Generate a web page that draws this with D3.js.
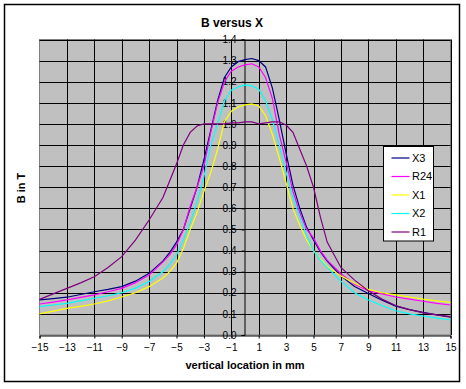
<!DOCTYPE html>
<html>
<head>
<meta charset="utf-8">
<script src="https://cdn.jsdelivr.net/npm/d3@7"></script>
<style>
  body { margin: 0; background: #fff; }
  text { font-family: "Liberation Sans", Arial, sans-serif; }
</style>
</head>
<body>
<svg id="chart" width="466" height="389"></svg>
<script>
// positions along the magnet (mm)
const xs = [-15, -14, -13, -12, -11, -10, -9, -8, -7, -6,
  -5.5, -5, -4.5, -4, -3.5, -3, -2.5, -2, -1.5, -1, -0.5, 0, 0.5, 1, 1.5, 2, 2.5, 3, 3.5, 4, 4.5, 5, 5.5,
  6, 7, 8, 9, 10, 11, 12, 13, 14, 15];

const x3 = [0.166, 0.172, 0.179, 0.192, 0.205, 0.216, 0.229, 0.255, 0.292, 0.35,
  0.39, 0.44, 0.5, 0.6, 0.7, 0.83, 0.97, 1.11, 1.22, 1.27, 1.295, 1.305, 1.31, 1.3, 1.27, 1.17, 1.02, 0.86, 0.71, 0.6, 0.51, 0.45, 0.395,
  0.35, 0.28, 0.23, 0.197, 0.165, 0.137, 0.12, 0.107, 0.095, 0.085];

const r24 = [0.147, 0.156, 0.166, 0.178, 0.19, 0.205, 0.221, 0.248, 0.284, 0.345,
  0.38, 0.427, 0.5, 0.61, 0.7, 0.8, 0.96, 1.1, 1.2, 1.25, 1.27, 1.28, 1.285, 1.27, 1.22, 1.12, 0.95, 0.82, 0.68, 0.58, 0.5, 0.46, 0.4,
  0.355, 0.29, 0.24, 0.21, 0.195, 0.18, 0.17, 0.16, 0.15, 0.142];

const x1 = [0.1, 0.113, 0.126, 0.136, 0.147, 0.162, 0.18, 0.2, 0.229, 0.27,
  0.3, 0.34, 0.41, 0.5, 0.58, 0.68, 0.77, 0.88, 1.01, 1.06, 1.08, 1.09, 1.095, 1.085, 1.04, 0.95, 0.84, 0.72, 0.6, 0.52, 0.45, 0.4, 0.36,
  0.325, 0.28, 0.245, 0.216, 0.2, 0.19, 0.18, 0.17, 0.162, 0.155];

const x2 = [0.134, 0.142, 0.15, 0.162, 0.174, 0.186, 0.2, 0.222, 0.253, 0.3,
  0.335, 0.379, 0.45, 0.53, 0.63, 0.75, 0.9, 1.0, 1.11, 1.16, 1.175, 1.185, 1.18, 1.165, 1.11, 1.02, 0.9, 0.77, 0.65, 0.56, 0.47, 0.4, 0.355,
  0.32, 0.255, 0.2, 0.166, 0.14, 0.115, 0.1, 0.09, 0.08, 0.071];

const r1 = [0.169, 0.195, 0.221, 0.247, 0.276, 0.32, 0.371, 0.45, 0.545, 0.65,
  0.73, 0.81, 0.9, 0.96, 0.99, 1.0, 1.0, 1.0, 1.0, 1.005, 1.005, 1.01, 1.01, 1.0, 1.005, 1.01, 1.01, 0.995, 0.96, 0.88, 0.8, 0.7, 0.56,
  0.44, 0.32, 0.26, 0.21, 0.17, 0.14, 0.12, 0.105, 0.095, 0.087];

const seriesNames = ["X3", "R24", "X1", "X2", "R1"];
const seriesValues = [x3, r24, x1, x2, r1];
const colors = ["#000080", "#ff00ff", "#ffff00", "#00ffff", "#800080"];

const xTicks = d3.range(-15, 16, 2);
const yTicks = d3.range(0, 15).map(d => d / 10);

const svg = d3.select("#chart");

// chart area border
svg.append("rect")
  .attr("x", 4.5).attr("y", 4.5)
  .attr("width", 455).attr("height", 377)
  .attr("fill", "#fff")
  .attr("stroke", "#000")
  .attr("stroke-width", 1.5);

const x = d3.scaleLinear().domain([-15, 15]).range([39.5, 450.5]);
const y = d3.scaleLinear().domain([0, 1.4]).range([335, 39.5]);

// plot area
svg.append("rect")
  .attr("x", x(-15)).attr("y", y(1.4))
  .attr("width", x(15) - x(-15)).attr("height", y(0) - y(1.4))
  .attr("fill", "#c0c0c0")
  .attr("stroke", "#808080");

// gridlines
const grid = svg.append("g").attr("stroke", "#000").attr("stroke-width", 1);
grid.selectAll(".vg").data(xTicks.slice(1))
  .enter().append("line")
  .attr("x1", d => Math.round(x(d)) + 0.5).attr("x2", d => Math.round(x(d)) + 0.5)
  .attr("y1", y(1.4)).attr("y2", y(0));
grid.selectAll(".hg").data(yTicks.slice(1))
  .enter().append("line")
  .attr("x1", x(-15)).attr("x2", x(15))
  .attr("y1", d => Math.round(y(d)) + 0.5).attr("y2", d => Math.round(y(d)) + 0.5);

// x axis along B = 0
const xAxis = svg.append("g")
  .attr("transform", `translate(0,${Math.round(y(0)) + 0.5})`)
  .call(d3.axisBottom(x).tickValues(xTicks).tickSize(3).tickPadding(5).tickFormat(d3.format("d")));
xAxis.selectAll("text").attr("font-size", 10).attr("fill", "#000")
  .style("font-family", "'Liberation Sans', Arial, sans-serif");
xAxis.select(".domain").attr("stroke", "#000");

// y axis crossing at x = 0
const yAxis = svg.append("g")
  .attr("transform", `translate(${Math.round(x(0)) - 0.5},0)`)
  .call(d3.axisLeft(y).tickValues(yTicks).tickSize(3).tickPadding(5).tickFormat(d3.format(".1f")));
yAxis.selectAll("text").attr("font-size", 10).attr("fill", "#000")
  .style("font-family", "'Liberation Sans', Arial, sans-serif");
yAxis.select(".domain").attr("stroke", "#000");

// curves
const line = d3.line()
  .x((d, i) => x(xs[i]))
  .y(d => y(d));

svg.append("g").selectAll("path")
  .data(seriesValues)
  .enter().append("path")
  .attr("d", line)
  .attr("fill", "none")
  .attr("stroke", (d, i) => colors[i])
  .attr("stroke-width", 1.2);

// titles
svg.append("text")
  .attr("x", 232).attr("y", 27)
  .attr("text-anchor", "middle")
  .attr("font-size", 12).attr("font-weight", "bold")
  .text("B versus X");

svg.append("text")
  .attr("transform", "translate(25,188) rotate(-90)")
  .attr("text-anchor", "middle")
  .attr("font-size", 11).attr("font-weight", "bold")
  .text("B in T");

svg.append("text")
  .attr("x", 245).attr("y", 369)
  .attr("text-anchor", "middle")
  .attr("font-size", 11).attr("font-weight", "bold")
  .text("vertical location in mm");

// legend
const legend = svg.append("g").attr("transform", "translate(383.5,146.5)");
legend.append("rect")
  .attr("width", 50).attr("height", 94.5)
  .attr("fill", "#fff").attr("stroke", "#000");

const item = legend.selectAll(".item")
  .data(seriesNames)
  .enter().append("g")
  .attr("transform", (d, i) => `translate(0,${11.5 + i * 18.5})`);

item.append("line")
  .attr("x1", 8).attr("x2", 26)
  .attr("stroke", (d, i) => colors[i])
  .attr("stroke-width", 1.2);

item.append("text")
  .attr("x", 28.5).attr("dy", "0.35em")
  .attr("font-size", 11)
  .text(d => d);
</script>
</body>
</html>
